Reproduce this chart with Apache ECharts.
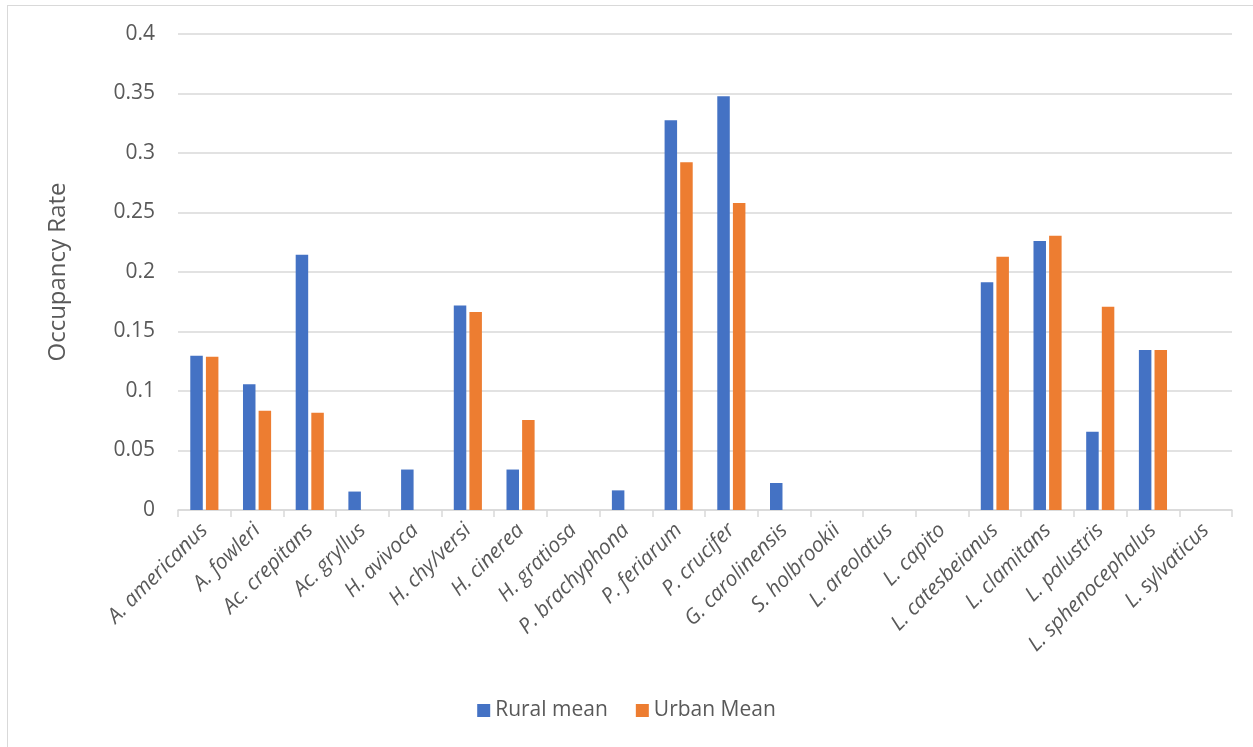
<!DOCTYPE html>
<html>
<head>
<meta charset="utf-8">
<script src="https://cdn.jsdelivr.net/npm/echarts@6/dist/echarts.min.js"></script>
<style>
html,body{margin:0;padding:0;background:#fff;}
#frame{position:absolute;left:7px;top:5px;width:1260px;height:760px;border:1.5px solid #d9d9d9;box-sizing:border-box;}
#chart{position:absolute;left:0;top:0;width:1253px;height:747px;}
</style>
</head>
<body>
<div id="frame"></div>
<div id="chart"></div>
<script>
const categories = ['A. americanus','A. fowleri','Ac. crepitans','Ac. gryllus','H. avivoca','H. chy/versi','H. cinerea','H. gratiosa','P. brachyphona','P. feriarum','P. crucifer','G. carolinensis','S. holbrookii','L. areolatus','L. capito','L. catesbeianus','L. clamitans','L. palustris','L. sphenocephalus','L. sylvaticus'];
const ruralMean = [0.1296,0.1057,0.2145,0.0155,0.034,0.1718,0.034,0,0.0165,0.3275,0.3477,0.0227,0,0,0,0.1913,0.226,0.0658,0.1344,0];
const urbanMean = [0.1288,0.0835,0.0818,0,0,0.1664,0.0757,0,0,0.2923,0.258,0,0,0,0,0.2128,0.2305,0.1707,0.1344,0];
const yTicks = [0,0.05,0.1,0.15,0.2,0.25,0.3,0.35,0.4];

const FONT = 'Open Sans';
const TXT = '#595959';
const chart = echarts.init(document.getElementById('chart'), null, {renderer:'canvas'});
chart.setOption({
  animation:false,
  backgroundColor:'transparent',
  textStyle:{fontFamily:FONT},
  grid:{left:178,right:21,top:34,bottom:237,containLabel:false},
  legend:{
    bottom:21, left:'center',
    itemWidth:13, itemHeight:13, itemGap:28,
    icon:'rect',
    textStyle:{fontFamily:FONT,fontSize:21,color:TXT},
    data:['Rural mean','Urban Mean']
  },
  xAxis:{
    type:'category',
    data:categories,
    axisLine:{lineStyle:{color:'#d9d9d9',width:1.5}},
    axisTick:{show:true,length:7,lineStyle:{color:'#d9d9d9',width:1.5}},
    axisLabel:{rotate:45,interval:0,fontFamily:FONT,fontStyle:'italic',fontSize:21,color:TXT,margin:17}
  },
  yAxis:{
    type:'value',
    min:yTicks[0], max:yTicks[yTicks.length-1], interval:0.05,
    name:'Occupancy Rate',
    nameLocation:'middle',
    nameGap:108,
    nameTextStyle:{fontFamily:FONT,fontSize:24,color:TXT},
    axisLine:{show:false},
    axisTick:{show:false},
    splitLine:{lineStyle:{color:'#d9d9d9',width:1.5}},
    axisLabel:{fontFamily:FONT,fontSize:21,color:TXT,margin:23,
      formatter:v=>String(+v.toFixed(2))}
  },
  series:[
    {name:'Rural mean',type:'bar',data:ruralMean,barWidth:12.5,barGap:'25%',
     itemStyle:{color:'#4472C4'}},
    {name:'Urban Mean',type:'bar',data:urbanMean,barWidth:12.5,barGap:'25%',
     itemStyle:{color:'#ED7D31'}}
  ]
});
</script>
</body>
</html>
